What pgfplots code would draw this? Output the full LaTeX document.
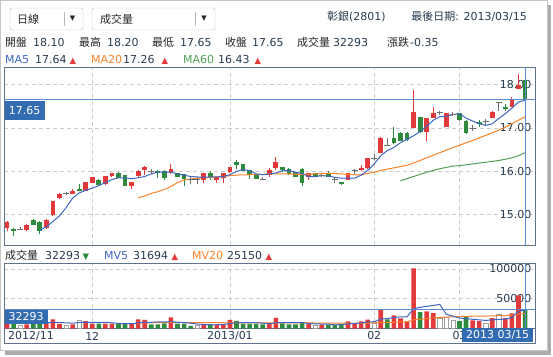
\documentclass[border=0pt]{standalone}
\usepackage{pgfplots}
\pgfplotsset{compat=1.18}
\usepackage{pgfplotstable}
\usepackage{fontspec}
\setmainfont{DejaVu Sans}
\newfontfamily\cjk{Noto Sans CJK TC}
\definecolor{upc}{RGB}{226,58,58}
\definecolor{dnc}{RGB}{46,139,62}
\definecolor{dojic}{RGB}{110,110,110}
\definecolor{ma5c}{RGB}{62,102,196}
\definecolor{ma20c}{RGB}{250,130,40}
\definecolor{ma60c}{RGB}{80,160,85}
\definecolor{linec}{RGB}{90,140,205}
\definecolor{boxc}{RGB}{52,108,178}
\definecolor{framec}{RGB}{95,115,140}
\definecolor{gridc}{RGB}{205,205,205}
\definecolor{txtc}{RGB}{40,60,80}
\newcommand{\fs}{\fontsize{11}{13}\selectfont}
\newcommand{\tri}{\fontsize{8.5}{8.5}\selectfont}

\pgfplotstableread{
i o h l c
0 14.68 14.85 14.62 14.82
1 14.66 14.68 14.50 14.61
2 14.66 14.72 14.66 14.66
3 14.64 14.78 14.63 14.75
4 14.88 14.89 14.75 14.75
5 14.83 14.86 14.55 14.62
6 14.68 14.89 14.66 14.88
7 14.98 15.31 14.97 15.31
8 15.39 15.49 15.36 15.47
9 15.48 15.52 15.45 15.48
10 15.48 15.58 15.47 15.54
11 15.60 15.70 15.55 15.55
12 15.54 15.76 15.54 15.75
13 15.73 15.88 15.72 15.87
14 15.81 15.82 15.69 15.69
15 15.70 15.90 15.69 15.89
16 15.89 15.97 15.88 15.96
17 15.97 15.98 15.85 15.85
18 15.91 15.92 15.66 15.66
19 15.66 15.76 15.59 15.75
20 15.89 16.02 15.88 16.01
21 16.04 16.12 15.91 16.10
22 16.00 16.05 15.93 16.00
23 16.01 16.02 15.85 15.96
24 16.01 16.04 15.81 15.85
25 15.96 16.16 15.93 16.05
26 15.96 15.97 15.88 15.88
27 15.93 15.94 15.66 15.83
28 15.81 15.87 15.70 15.81
29 15.81 15.87 15.70 15.81
30 15.81 15.97 15.72 15.96
31 15.96 16.01 15.80 15.88
32 15.81 15.88 15.73 15.87
33 15.85 15.97 15.73 15.96
34 15.98 16.11 15.97 16.10
35 16.21 16.25 16.06 16.15
36 16.16 16.17 16.01 16.01
37 16.02 16.03 15.83 15.91
38 15.91 15.92 15.83 15.83
39 15.81 15.88 15.80 15.81
40 15.91 16.08 15.88 16.02
41 16.08 16.32 16.04 16.21
42 16.10 16.11 15.98 16.04
43 16.05 16.08 15.91 15.93
44 15.98 15.99 15.88 15.88
45 16.05 16.08 15.66 15.73
46 15.87 15.97 15.81 15.96
47 15.96 15.97 15.86 15.87
48 15.91 15.97 15.86 15.91
49 15.96 16.00 15.86 15.87
50 15.81 15.87 15.72 15.81
51 15.75 15.76 15.69 15.70
52 15.81 15.97 15.80 15.96
53 16.01 16.06 15.93 16.01
54 16.04 16.14 16.01 16.08
55 16.07 16.31 16.06 16.30
56 16.30 16.41 16.26 16.30
57 16.43 16.79 16.42 16.78
58 16.60 16.76 16.58 16.60
59 16.78 17.02 16.63 16.65
60 16.89 16.90 16.70 16.71
61 16.89 16.90 16.71 16.73
62 17.00 17.88 16.99 17.36
63 17.25 17.26 16.88 16.90
64 16.90 17.24 16.69 17.23
65 17.23 17.49 17.22 17.34
66 17.35 17.40 17.30 17.35
67 17.03 17.35 17.02 17.34
68 17.32 17.36 17.28 17.32
69 17.34 17.35 17.17 17.18
70 17.17 17.18 16.85 16.88
71 17.00 17.06 16.94 17.00
72 17.15 17.18 17.02 17.09
73 17.15 17.20 17.08 17.15
74 17.23 17.40 17.22 17.38
75 17.58 17.60 17.40 17.58
76 17.49 17.55 17.40 17.43
77 17.49 17.72 17.48 17.68
78 17.90 18.25 17.89 18.00
79 18.10 18.20 17.65 17.65
}\candles

\pgfplotstableread{
i v
5 14.64
6 14.72
7 14.84
8 14.97
9 15.16
10 15.38
11 15.50
12 15.56
13 15.61
14 15.67
15 15.74
16 15.81
17 15.85
18 15.85
19 15.83
20 15.85
21 15.88
22 15.94
23 15.98
24 15.98
25 15.98
26 15.94
27 15.91
28 15.88
29 15.87
30 15.86
31 15.87
32 15.87
33 15.88
34 15.92
35 16.00
36 16.04
37 16.02
38 15.94
39 15.92
40 15.94
41 15.96
42 16.01
43 16.02
44 15.98
45 15.95
46 15.88
47 15.88
48 15.90
49 15.89
50 15.86
51 15.84
52 15.84
53 15.84
54 15.91
55 16.02
56 16.17
57 16.36
58 16.48
59 16.55
60 16.66
61 16.74
62 16.82
63 16.92
64 17.04
65 17.18
66 17.26
67 17.27
68 17.31
69 17.33
70 17.23
71 17.16
72 17.10
73 17.06
74 17.10
75 17.22
76 17.33
77 17.46
78 17.60
79 17.64
}\mafive

\pgfplotstableread{
i v
20 15.39
21 15.43
22 15.49
23 15.53
24 15.58
25 15.65
26 15.74
27 15.80
28 15.82
29 15.84
30 15.85
31 15.86
32 15.87
33 15.88
34 15.90
35 15.91
36 15.92
37 15.92
38 15.93
39 15.93
40 15.94
41 15.94
42 15.94
43 15.94
44 15.93
45 15.93
46 15.93
47 15.94
48 15.95
49 15.95
50 15.95
51 15.94
52 15.93
53 15.92
54 15.92
55 15.95
56 15.98
57 16.02
58 16.05
59 16.08
60 16.11
61 16.14
62 16.19
63 16.25
64 16.31
65 16.37
66 16.43
67 16.49
68 16.55
69 16.60
70 16.66
71 16.71
72 16.77
73 16.83
74 16.89
75 16.95
76 17.02
77 17.10
78 17.18
79 17.26
}\matwenty

\pgfplotstableread{
i v
60 15.78
61 15.83
62 15.88
63 15.93
64 15.98
65 16.02
66 16.06
67 16.09
68 16.12
69 16.13
70 16.15
71 16.17
72 16.19
73 16.21
74 16.23
75 16.25
76 16.28
77 16.31
78 16.36
79 16.43
}\masixty

\pgfplotstableread{
i v k
0 9000 0
1 8000 1
2 6000 2
3 7000 0
4 9000 1
5 10000 1
6 11000 0
7 15500 0
8 7600 0
9 5900 2
10 7000 0
11 14300 2
12 12600 0
13 8000 0
14 8000 1
15 8000 0
16 8000 0
17 8000 1
18 8000 1
19 8000 0
20 15500 0
21 14300 0
22 7000 1
23 7000 1
24 8700 1
25 18800 0
26 8000 1
27 8000 1
28 4500 1
29 5900 2
30 7000 0
31 7000 1
32 7000 0
33 7000 0
34 14300 0
35 13000 1
36 7600 1
37 7600 1
38 7600 1
39 7000 1
40 9000 0
41 18000 0
42 8700 1
43 7000 1
44 7000 1
45 10900 1
46 7600 0
47 5000 2
48 6500 0
49 6500 1
50 5500 1
51 7600 1
52 11800 0
53 8900 0
54 11800 0
55 14900 0
56 8900 2
57 31600 0
58 15500 1
59 22200 0
60 17000 0
61 11800 0
62 101000 0
63 27700 1
64 28600 0
65 26000 0
66 17600 2
67 18500 2
68 13600 2
69 12600 1
70 20300 1
71 13600 0
72 12600 0
73 8000 2
74 17600 0
75 23200 2
76 17600 0
77 25300 0
78 55800 0
79 32293 1
}\vol

\pgfplotstableread{
i v
6 9500
7 10500
8 10000
9 9500
10 9000
11 10000
12 10500
13 10000
14 10500
15 10500
16 9500
17 8500
18 8000
19 8000
20 9500
21 10500
22 10500
23 11000
24 11000
25 11500
26 10500
27 10000
28 9000
29 7500
30 6800
31 6300
32 6300
33 6800
34 8500
35 9500
36 9800
37 9800
38 10000
39 9000
40 8000
41 9800
42 10000
43 10000
44 10000
45 10000
46 8400
47 7800
48 7500
49 7400
50 6200
51 6600
52 7900
53 8500
54 9300
55 11000
56 11400
57 15700
58 16700
59 18600
60 19500
61 19600
62 33000
63 35800
64 37200
65 38800
66 40500
67 23700
68 20900
69 17600
70 16500
71 15500
72 14500
73 13600
74 14500
75 15200
76 16000
77 18800
78 28600
79 31694
}\mvfive

\pgfplotstableread{
i v
20 9500
22 9700
25 10200
28 10000
30 9800
35 9600
40 9600
45 9400
50 9000
53 8800
55 9200
57 10000
59 10500
60 11000
61 11200
62 14500
63 15800
64 16800
65 17800
66 18600
67 19200
68 19700
69 20100
70 20500
71 20700
72 20900
73 20900
74 21100
75 21500
76 21800
77 22300
78 24300
79 25150
}\mvtwenty

\pgfplotsset{
  panel/.style={
    scale only axis, width=531bp, xmin=-0.4575, xmax=80.52,
    axis line style={framec, line width=0.8bp},
    major tick length=0pt,
    grid=major,
    major grid style={gridc, dash pattern=on 4bp off 3bp, line width=0.7bp},
    xtick={13,34,56,69},
    scaled y ticks=false, scaled x ticks=false,
    tick label style={font=\fs, text=txtc},
    yticklabel pos=right,
    yticklabel style={anchor=east, inner sep=0pt, xshift=-3.5bp},
  },
  wick/.style={only marks, mark=*, mark size=0pt, mark options={draw=none,fill=none},
    error bars/y dir=plus, error bars/y explicit, error bars/error mark=none,
    error bars/error bar style={#1, line width=1bp}},
  body/.style={only marks, mark=*, mark size=0pt, mark options={draw=none,fill=none},
    error bars/y dir=both, error bars/y explicit, error bars/error mark=none,
    error bars/error bar style={#1, line width=4.8bp}},
}

\begin{document}
\begin{tikzpicture}[x=1bp, y=1bp, every node/.style={font=\fs, inner sep=0pt}]
\path[use as bounding box] (0,0) rectangle (553,356);
\fill[gray!65] (5,1) rectangle (551,351);
\draw[gray!45, fill=white] (0.5,5.5) rectangle (547,355.5);

% controls
\draw[gray!55, rounded corners=2bp] (10,326) rectangle (83,348);
\draw[gray!55] (64,330) -- (64,344);
\node[anchor=base west, text=black!85] at (17,332.5) {\cjk 日線};
\node[text=black!85] at (72.5,337) {\fontsize{7}{7}\selectfont ▼};
\draw[gray!55, rounded corners=2bp] (92,326) rectangle (215,348);
\draw[gray!55] (195,330) -- (195,344);
\node[anchor=base west, text=black!85] at (100,332.5) {\cjk 成交量};
\node[text=black!85] at (204,337) {\fontsize{7}{7}\selectfont ▼};

% title
\node[anchor=base west, text=txtc] at (327,335.5) {{\cjk 彰銀}(2801)};
\node[anchor=base east, text=txtc] at (527,335.5) {{\cjk 最後日期}: 2013/03/15};

% row 2
\node[anchor=base west, text=black!85] at (5,309.5) {\cjk 開盤};
\node[anchor=base west, text=txtc] at (33,309.5) {18.10};
\node[anchor=base west, text=black!85] at (79,309.5) {\cjk 最高};
\node[anchor=base west, text=txtc] at (107,309.5) {18.20};
\node[anchor=base west, text=black!85] at (152,309.5) {\cjk 最低};
\node[anchor=base west, text=txtc] at (180,309.5) {17.65};
\node[anchor=base west, text=black!85] at (225,309.5) {\cjk 收盤};
\node[anchor=base west, text=txtc] at (252,309.5) {17.65};
\node[anchor=base west, text=black!85] at (297,309.5) {\cjk 成交量};
\node[anchor=base west, text=txtc] at (333,309.5) {32293};
\node[anchor=base west, text=black!85] at (387,309.5) {\cjk 漲跌};
\node[anchor=base west, text=txtc] at (410,309.5) {-0.35};

% row 3
\node[anchor=base west, text=ma5c] at (5,293) {MA5};
\node[anchor=base west, text=txtc] at (35,293) {17.64};
\node[anchor=base west, text=upc] at (69.5,293) {\tri ▲};
\node[anchor=base west, text=ma20c] at (91,293) {MA20};
\node[anchor=base west, text=txtc] at (123,293) {17.26};
\node[anchor=base west, text=upc] at (161.5,293) {\tri ▲};
\node[anchor=base west, text=ma60c] at (183,293) {MA60};
\node[anchor=base west, text=txtc] at (218,293) {16.43};
\node[anchor=base west, text=upc] at (254.5,293) {\tri ▲};

% price panel
\begin{axis}[panel, at={(4bp,111bp)}, anchor=south west, height=178bp,
  ymin=14.298, ymax=18.409,
  ytick={15,16,17,18}, yticklabels={15.00,16.00,17.00,18.00},
  xticklabels={,,,}]
\addplot[restrict expr to domain={\thisrow{c}-\thisrow{o}}{0.005:100}, wick=upc]
  table[x=i, y=l, y error plus expr=\thisrow{h}-\thisrow{l}] {\candles};
\addplot[restrict expr to domain={\thisrow{o}-\thisrow{c}}{0.005:100}, wick=dnc]
  table[x=i, y=l, y error plus expr=\thisrow{h}-\thisrow{l}] {\candles};
\addplot[restrict expr to domain={abs(\thisrow{o}-\thisrow{c})}{0:0.004}, wick=dojic]
  table[x=i, y=l, y error plus expr=\thisrow{h}-\thisrow{l}] {\candles};
\addplot[restrict expr to domain={\thisrow{c}-\thisrow{o}}{0.005:100}, body=upc]
  table[x=i, y expr=(\thisrow{o}+\thisrow{c})/2, y error plus expr=abs(\thisrow{c}-\thisrow{o})/2, y error minus expr=abs(\thisrow{c}-\thisrow{o})/2] {\candles};
\addplot[restrict expr to domain={\thisrow{o}-\thisrow{c}}{0.005:100}, body=dnc]
  table[x=i, y expr=(\thisrow{o}+\thisrow{c})/2, y error plus expr=abs(\thisrow{c}-\thisrow{o})/2, y error minus expr=abs(\thisrow{c}-\thisrow{o})/2] {\candles};
\addplot[only marks, mark=-, mark size=3bp, mark options={dojic, line width=1bp},
  restrict expr to domain={abs(\thisrow{o}-\thisrow{c})}{0:0.004}]
  table[x=i, y=c] {\candles};
\addplot[ma60c, line width=1bp, mark=none] table[x=i, y=v] {\masixty};
\addplot[ma20c, line width=1bp, mark=none] table[x=i, y=v] {\matwenty};
\addplot[ma5c, line width=1bp, mark=none] table[x=i, y=v] {\mafive};
\addplot[linec, line width=1bp, mark=none] coordinates {(-0.4575,17.65) (80.52,17.65)};
\addplot[linec, line width=1bp, mark=none] coordinates {(79,14.298) (79,18.409)};
\end{axis}
\node[fill=boxc, text=white, anchor=north west, minimum width=40bp, minimum height=18.5bp] at (4.4,255) {17.65};

% volume header
\node[anchor=base west, text=black!85] at (5,97) {\cjk 成交量};
\node[anchor=base west, text=txtc] at (45,97) {32293};
\node[anchor=base west, text=dnc] at (82.5,97) {\tri ▼};
\node[anchor=base west, text=ma5c] at (104,97) {MV5};
\node[anchor=base west, text=txtc] at (133,97) {31694};
\node[anchor=base west, text=upc] at (171.5,97) {\tri ▲};
\node[anchor=base west, text=ma20c] at (192,97) {MV20};
\node[anchor=base west, text=txtc] at (227,97) {25150};
\node[anchor=base west, text=upc] at (265.5,97) {\tri ▲};

% volume panel
\begin{axis}[panel, at={(4bp,27.5bp)}, anchor=south west, height=65.5bp,
  ymin=0, ymax=110084,
  ytick={50000,100000}, yticklabels={50000,100000},
  xticklabels={12,2013/01,02,03},
  extra x ticks={3.66}, extra x tick labels={2012/11},
  extra x tick style={grid=none},
  xticklabel style={anchor=center, yshift=-7.5bp}]
\addplot[ybar, bar width=4.6bp, bar shift=0pt, fill=upc, draw=none,
  restrict expr to domain={\thisrow{k}}{-0.5:0.5}] table[x=i, y=v] {\vol};
\addplot[ybar, bar width=4.6bp, bar shift=0pt, fill=dnc, draw=none,
  restrict expr to domain={\thisrow{k}}{0.5:1.5}] table[x=i, y=v] {\vol};
\addplot[ybar, bar width=4.2bp, bar shift=0pt, fill=white, draw=gray!75, line width=0.6bp,
  restrict expr to domain={\thisrow{k}}{1.5:2.5}] table[x=i, y=v] {\vol};
\addplot[ma20c, line width=1bp, mark=none] table[x=i, y=v] {\mvtwenty};
\addplot[ma5c, line width=1bp, mark=none] table[x=i, y=v] {\mvfive};
\addplot[linec, line width=1bp, mark=none] coordinates {(-0.4575,32293) (80.52,32293)};
\addplot[linec, line width=1bp, mark=none] coordinates {(79,0) (79,110084)};
\end{axis}
\draw[framec, line width=0.8bp] (4,27.5) -- (4,13) -- (535,13) -- (535,27.5);
\node[fill=boxc, text=white, anchor=north west, minimum width=43bp, minimum height=14.7bp] at (4.4,46.7) {32293};
\node[fill=boxc, text=white, anchor=south west, minimum width=71bp, minimum height=14bp] at (462,13.4) {2013 03/15};
\end{tikzpicture}
\end{document}
